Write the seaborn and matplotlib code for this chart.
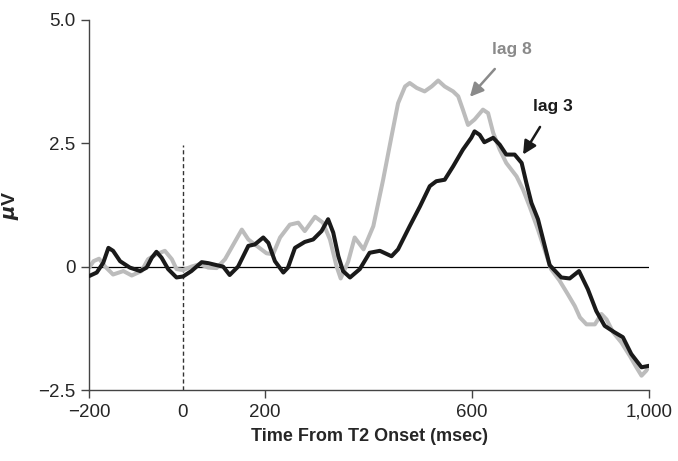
import numpy as np
import matplotlib
matplotlib.use("Agg")
import matplotlib.pyplot as plt
import seaborn as sns
import pandas as pd

# lag 3 (black)
lag3_t = [-200, -184, -170, -159, -149, -134, -113, -91, -77, -66, -56, -45, -31, -13, 1, 19,
          41, 55, 73, 87, 101, 119, 141, 155, 173, 184, 198, 216, 226, 241, 262, 280, 298,
          312, 323, 334, 344, 359, 380, 401, 423, 448, 462, 487, 509, 530, 544, 562, 580,
          601, 619, 626, 637, 647, 666, 680, 694, 712, 727, 737, 748, 762, 773, 787, 812,
          830, 850, 869, 887, 905, 926, 944, 962, 984, 1000]
lag3_v = [-0.19, -0.12, 0.08, 0.38, 0.32, 0.11, -0.02, -0.09, -0.02, 0.18, 0.30, 0.18, -0.05,
          -0.22, -0.20, -0.09, 0.09, 0.07, 0.03, 0.0, -0.17, 0.0, 0.42, 0.45, 0.59, 0.48, 0.11,
          -0.12, -0.02, 0.38, 0.50, 0.55, 0.72, 0.96, 0.69, 0.21, -0.09, -0.22, -0.05, 0.28,
          0.32, 0.21, 0.35, 0.82, 1.22, 1.63, 1.73, 1.76, 2.03, 2.37, 2.61, 2.74, 2.67, 2.52,
          2.61, 2.47, 2.27, 2.27, 2.10, 1.70, 1.29, 0.96, 0.55, 0.03, -0.22, -0.24, -0.09,
          -0.46, -0.90, -1.20, -1.33, -1.43, -1.77, -2.04, -2.01]

# lag 8 (grey)
lag8_t = [-200, -191, -179, -166, -149, -127, -109, -88, -74, -56, -38, -23, -13, 1, 19, 37,
          55, 73, 91, 109, 127, 141, 159, 180, 194, 209, 230, 248, 262, 284, 301, 316, 330,
          339, 355, 369, 388, 409, 430, 448, 462, 477, 487, 502, 519, 534, 548, 562, 580,
          591, 601, 612, 626, 644, 655, 666, 680, 694, 716, 730, 744, 762, 776, 790, 808,
          826, 841, 852, 866, 884, 898, 909, 923, 941, 959, 973, 984, 994, 1000]
lag8_v = [-0.02, 0.11, 0.16, 0.0, -0.16, -0.09, -0.18, -0.09, 0.15, 0.25, 0.32, 0.15, -0.05,
          -0.07, 0.0, 0.05, -0.02, -0.03, 0.15, 0.45, 0.75, 0.55, 0.42, 0.27, 0.25, 0.59, 0.85,
          0.89, 0.72, 1.01, 0.89, 0.55, 0.01, -0.24, 0.10, 0.59, 0.35, 0.82, 1.76, 2.64, 3.31,
          3.65, 3.72, 3.62, 3.55, 3.65, 3.77, 3.65, 3.55, 3.45, 3.18, 2.87, 2.98, 3.18, 3.11,
          2.71, 2.37, 2.10, 1.83, 1.56, 1.22, 0.75, 0.35, -0.05, -0.28, -0.56, -0.80, -1.03,
          -1.17, -1.17, -0.96, -1.07, -1.33, -1.54, -1.81, -2.04, -2.21, -2.11, -2.02]

xtick_pos = [-200, 0, 177, 621, 1000]
xtick_labels = ['\u2212200', '0', '200', '600', '1,000']
ytick_pos = [-2.5, 0, 2.5, 5.0]
ytick_labels = ['\u22122.5', '0', '2.5', '5.0']

sns.set_style('ticks')
plt.rcParams['font.family'] = ['Liberation Sans', 'DejaVu Sans']
# bold italic mu for the y label
plt.rcParams['mathtext.fontset'] = 'custom'
plt.rcParams['mathtext.it'] = 'DejaVu Sans:italic:bold'
plt.rcParams['mathtext.rm'] = 'Liberation Sans:bold'

df3 = pd.DataFrame({'t': lag3_t, 'v': lag3_v})
df8 = pd.DataFrame({'t': lag8_t, 'v': lag8_v})

fig = plt.figure(figsize=(6.78, 4.61), dpi=100)
ax = fig.add_axes([0.1317, 0.154, 0.8255, 0.803])

ax.axhline(0, color='black', lw=0.9, zorder=1)
ax.plot([0, 0], [-2.5, 2.47], color='#333333', lw=1.0, ls=(0, (3, 2)), zorder=1)

sns.lineplot(data=df8, x='t', y='v', color='#bcbcbc', lw=2.9, ax=ax, zorder=2,
             solid_joinstyle='round', solid_capstyle='round')
sns.lineplot(data=df3, x='t', y='v', color='#1a1a1a', lw=2.9, ax=ax, zorder=3,
             solid_joinstyle='round', solid_capstyle='round')

ax.set_xlim(-200, 1000)
ax.set_ylim(-2.5, 5.0)
ax.set_xticks(xtick_pos)
ax.set_xticklabels(xtick_labels, fontsize=13.5)
ax.set_yticks(ytick_pos)
ax.set_yticklabels(ytick_labels, fontsize=13.5)
ax.xaxis.get_major_ticks()[1].tick1line.set_visible(False)
ax.tick_params(axis='both', direction='out', length=6, width=1, color='#444444', pad=4)

for s in ['top', 'right']:
    ax.spines[s].set_visible(False)
for s in ['left', 'bottom']:
    ax.spines[s].set_color('#444444')
    ax.spines[s].set_linewidth(1.0)

ax.set_xlabel('Time From T2 Onset (msec)', fontsize=13, fontweight='bold', labelpad=5)
ax.set_ylabel(r'$\mu$V', fontsize=14, fontweight='bold', labelpad=12)

ax.annotate('lag 8', xy=(616, 3.44), xytext=(706, 4.39), color='#8a8a8a', fontsize=12.5,
            fontweight='bold', ha='center', va='center',
            arrowprops=dict(arrowstyle='-|>', color='#8a8a8a', lw=1.8, mutation_scale=20,
                            shrinkA=8, shrinkB=0))
ax.annotate('lag 3', xy=(730, 2.27), xytext=(793, 3.24), color='#1a1a1a', fontsize=12.5,
            fontweight='bold', ha='center', va='center',
            arrowprops=dict(arrowstyle='-|>', color='#1a1a1a', lw=1.8, mutation_scale=20,
                            shrinkA=8, shrinkB=0))

fig.savefig('out.png', dpi=100)
